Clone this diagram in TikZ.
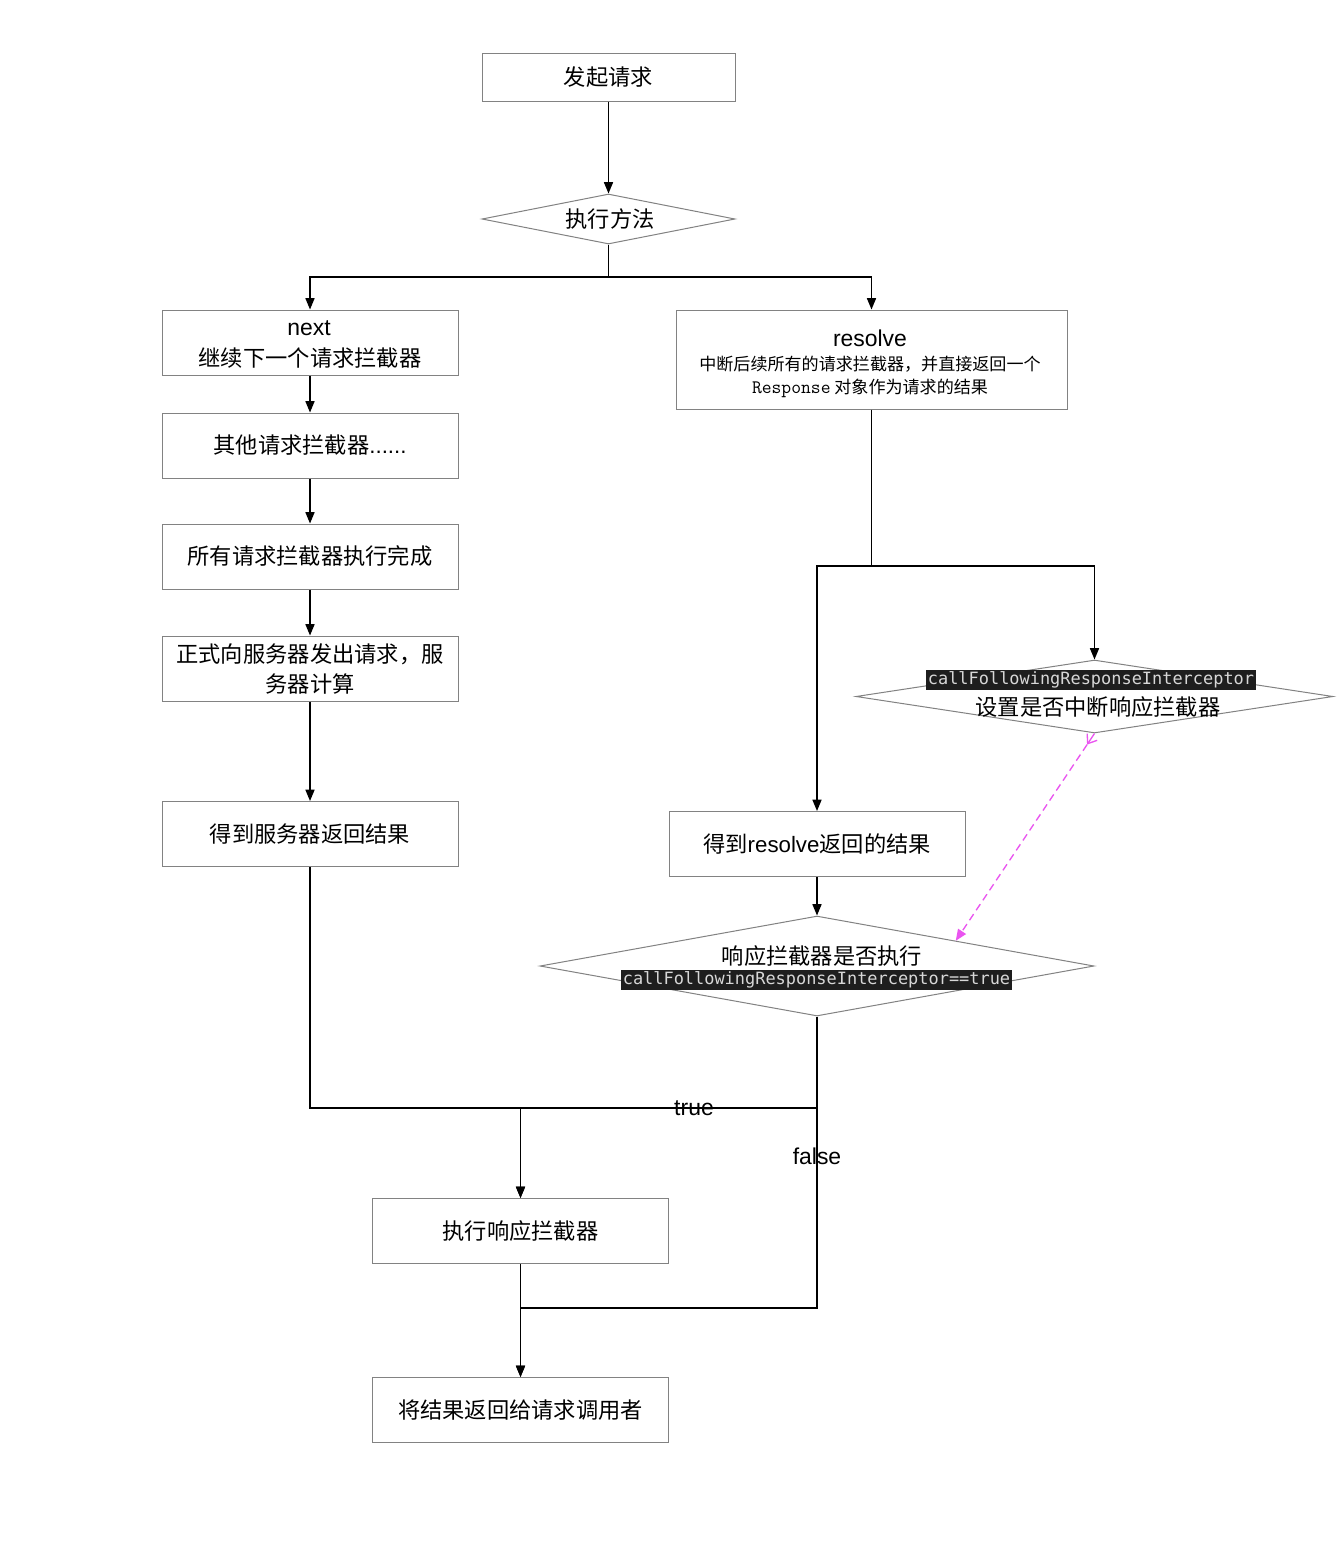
\documentclass[tikz,border=0pt]{standalone}
\usepackage{fontspec}
\setmainfont{Noto Sans CJK SC}
\newfontfamily\latinf{Liberation Sans}
\newfontfamily\codefont{DejaVu Sans Mono}
\newfontfamily\courf{Latin Modern Mono}
\usetikzlibrary{shapes.geometric,arrows.meta,calc}
\definecolor{boxgray}{RGB}{130,130,130}
\definecolor{codebg}{RGB}{30,30,30}
\definecolor{codefg}{RGB}{215,215,215}
\definecolor{magline}{RGB}{234,84,240}
\newcommand\codehl[1]{{\setlength{\fboxsep}{1.2pt}\colorbox{codebg}{\textcolor{codefg}{\codefont\fontsize{12.7}{14}\selectfont #1}}}}
\begin{document}
\begin{tikzpicture}[x=0.75pt,y=-0.75pt,
  box/.style={draw=boxgray,line width=0.75pt,minimum width=222pt,minimum height=48.75pt,align=center,inner sep=0pt,font=\fontsize{16.7}{22.5}\selectfont},
  dia/.style={diamond,draw=boxgray,line width=0.75pt,inner sep=0pt},
  txt/.style={inner sep=0pt,font=\fontsize{16.7}{20}\selectfont},
  smalltxt/.style={inner sep=0pt,font=\fontsize{12.8}{15}\selectfont},
  lbl/.style={inner sep=0pt,font=\latinf\fontsize{17.2}{20}\selectfont},
  conn/.style={line width=1pt,-{Triangle[length=8.5pt,width=6.8pt]}},
  plain/.style={line width=1pt}]
\useasboundingbox[fill=white] (0,0) rectangle (1340,1568);

% nodes
\node[box,minimum width=189.75pt,minimum height=36pt] (start) at (608.5,77) {发起请求};
\node[dia,minimum width=189.75pt,minimum height=37.5pt] (d1) at (608.5,219) {};
\node[txt] (d1t) at (610,219) {执行方法};

\node[box,minimum height=48.75pt] (next) at (310,342.5) {};
\node[lbl] (nextt1) at (309,328) {next};
\node[txt] (nextt2) at (310,358) {继续下一个请求拦截器};

\node[box] (other) at (310,445.5) {其他请求拦截器{\latinf ......}};
\node[box] (all) at (310,556.5) {所有请求拦截器执行完成};
\node[box] (send) at (310,668.5) {正式向服务器发出请求，服\\务器计算};
\node[box] (res1) at (310,834) {得到服务器返回结果};

\node[box,minimum width=293.25pt,minimum height=74.25pt] (resolve) at (871.5,359.5) {};
\node[lbl] (rt1) at (870,338) {resolve};
\node[smalltxt] (rt2) at (870,364) {中断后续所有的请求拦截器，并直接返回一个};
\node[smalltxt] (rt3) at (870,388) {{\courf\fontsize{14.3}{15}\selectfont Response} 对象作为请求的结果};

\node[dia,minimum width=357.75pt,minimum height=54.75pt] (d2) at (1094.5,696.5) {};
\node[inner sep=0pt] (d2t1) at (1091,680) {\codehl{callFollowingResponseInterceptor}};
\node[txt] (d2t2) at (1098,707) {设置是否中断响应拦截器};

\node[box] (res2) at (817,844) {得到{\latinf resolve}返回的结果};

\node[dia,minimum width=415.5pt,minimum height=75pt] (d3) at (817,966) {};
\node[txt] (d3t1) at (822,956) {响应拦截器是否执行};
\node[inner sep=0pt] (d3t2) at (816.5,980) {\codehl{callFollowingResponseInterceptor==true}};

\node[box] (exec) at (520.5,1231) {执行响应拦截器};
\node[box] (final) at (520.5,1410) {将结果返回给请求调用者};

% junctions
\coordinate (j1) at (608.5,277);
\coordinate (j2) at (871.5,566);
\coordinate (j3) at (310,1108);
\coordinate (j4) at (817,1108);
\coordinate (j5) at (817,1308);
\coordinate (mtip) at ($(d2.south)!10pt!(d3.north east)$);

% connectors
\draw[conn] (start.south) -- (d1.north);
\draw[conn] (d1.south) -- (j1) -| (next.north);
\draw[conn] (j1) -| (resolve.north);
\draw[conn] (next.south) -- (other.north);
\draw[conn] (other.south) -- (all.north);
\draw[conn] (all.south) -- (send.north);
\draw[conn] (send.south) -- (res1.north);
\draw[conn] (resolve.south) -- (j2) -| (res2.north);
\draw[conn] (j2) -| (d2.north);
\draw[conn] (res2.south) -- (d3.north);
\draw[magline,line width=1pt,-{Straight Barb[length=6pt,width=9pt]}] (d2.south) -- (mtip);
\draw[magline,dash pattern=on 5.5pt off 3.5pt,line width=1pt,-{Triangle[length=8.5pt,width=7pt]}] (mtip) -- (d3.north east);
\draw[conn] (res1.south) -- (j3) -| (exec.north);
\draw[conn] (d3.south) -- (j4) -| (exec.north);
\draw[conn] (j4) -- (j5) -| (final.north);
\draw[conn] (exec.south) -- (final.north);

% labels
\node[lbl] (ltrue) at (694,1108) {true};
\node[lbl] (lfalse) at (817,1156) {false};
\end{tikzpicture}
\end{document}
